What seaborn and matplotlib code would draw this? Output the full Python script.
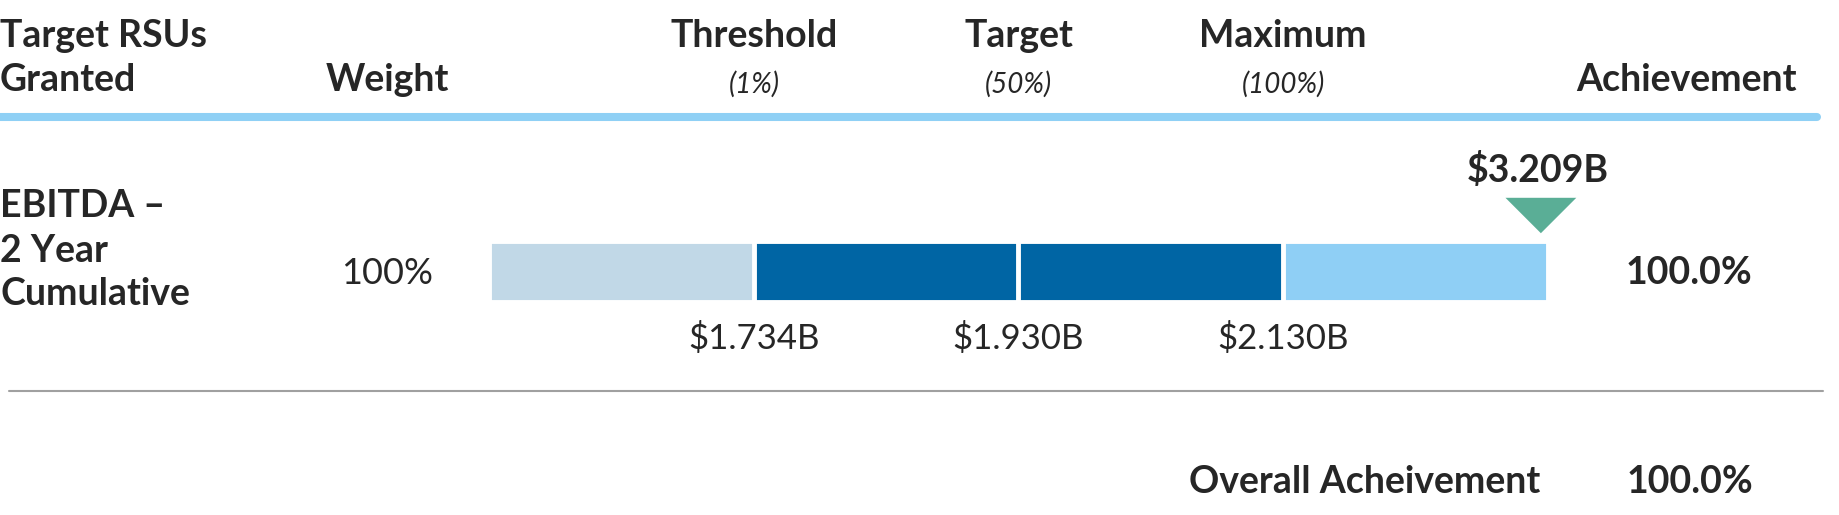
import matplotlib
matplotlib.use("Agg")
import matplotlib.pyplot as plt
from matplotlib.path import Path
import pandas as pd
import seaborn as sns

# data
metric = "EBITDA"
metric_label = ["EBITDA \u2013", "2 Year", "Cumulative"]
weight = "100%"
levels = ["Threshold", "Target", "Maximum"]
level_pcts = ["(1%)", "(50%)", "(100%)"]
level_values = ["$1.734B", "$1.930B", "$2.130B"]
segment_ends = [1, 2, 3, 4]          # four equal-width zones on the scale
segment_colors = ["#c1d8e7", "#0065a4", "#0065a4", "#8fcff5"]
actual_pos = 3.975
actual_label = "$3.209B"
achievement = "100.0%"
overall = "100.0%"

W, H = 1840, 515
sns.set_style("white")
plt.rcParams["font.family"] = ["Lato", "DejaVu Sans"]

fig = plt.figure(figsize=(W / 100, H / 100), dpi=100)

def fx(x):
    return x / W

def fy(y):
    return 1 - y / H

# bar axis (pixel frame of the bar row)
bx0, bx1, by0, by1 = 489.5, 1547.5, 240.5, 301.5
unit_y = by1 - by0
cy = (by0 + by1) / 2

def dy(ypix):
    return (ypix - cy) / unit_y

ax = fig.add_axes([fx(bx0), fy(by1), fx(bx1 - bx0), unit_y / H])
for end, col in sorted(zip(segment_ends, segment_colors), reverse=True):
    df = pd.DataFrame({"end": [end], "row": [metric]})
    sns.barplot(data=df, x="end", y="row", orient="h", color=col, width=1.0,
                edgecolor="white", linewidth=3.5, saturation=1, ax=ax)

# achievement marker
tri = Path([(-1, 0.5), (1, 0.5), (0, -0.5), (-1, 0.5)],
           [Path.MOVETO, Path.LINETO, Path.LINETO, Path.CLOSEPOLY])
sns.scatterplot(x=[actual_pos], y=[dy(215.5)], marker=tri, s=2600,
                color="#5aae96", edgecolor="none", linewidth=0, ax=ax,
                clip_on=False, legend=False)
ax.set_xlim(0, 4)
ax.set_ylim(0.5, -0.5)
ax.axis("off")
ax.text(actual_pos - 0.01, dy(182), actual_label, ha="center", va="baseline",
        fontsize=27, fontweight="bold", clip_on=False)

# value labels under the zone boundaries
for e, lab in zip(segment_ends[:3], level_values):
    ax.text(e, dy(349), lab, ha="center", va="baseline", fontsize=25,
            clip_on=False)

# header
bold = dict(fontsize=27, fontweight="bold", va="baseline")
fig.text(0.0, fy(47), "Target RSUs", ha="left", **bold)
fig.text(0.0, fy(91), "Granted", ha="left", **bold)
fig.text(fx(387), fy(91), "Weight", ha="center", **bold)
for e, lev, pct in zip(segment_ends[:3], levels, level_pcts):
    xpix = bx0 + e * (bx1 - bx0) / 4
    fig.text(fx(xpix), fy(47), lev, ha="center", **bold)
    fig.text(fx(xpix), fy(93), pct, ha="center", va="baseline", fontsize=20,
             style="italic")
fig.text(fx(1797), fy(91), "Achievement", ha="right", **bold)

fig.add_artist(plt.Line2D([0, fx(1817)], [fy(117), fy(117)], color="#8fd0f5",
                          linewidth=5.8, transform=fig.transFigure))

# row
for t, base in zip(metric_label, [217, 262, 305]):
    fig.text(0.0, fy(base), t, ha="left", **bold)
fig.text(fx(387), fy(284), weight, ha="center", va="baseline", fontsize=26)
fig.text(fx(1689), fy(284), achievement, ha="center", **bold)

fig.add_artist(plt.Line2D([fx(9), fx(1823)], [fy(391), fy(391)], color="#a0a0a0",
                          linewidth=1.5, transform=fig.transFigure))

# footer
fig.text(fx(1540), fy(493), "Overall Acheivement", ha="right", **bold)
fig.text(fx(1690), fy(493), overall, ha="center", **bold)

fig.savefig("out.png", dpi=100)
